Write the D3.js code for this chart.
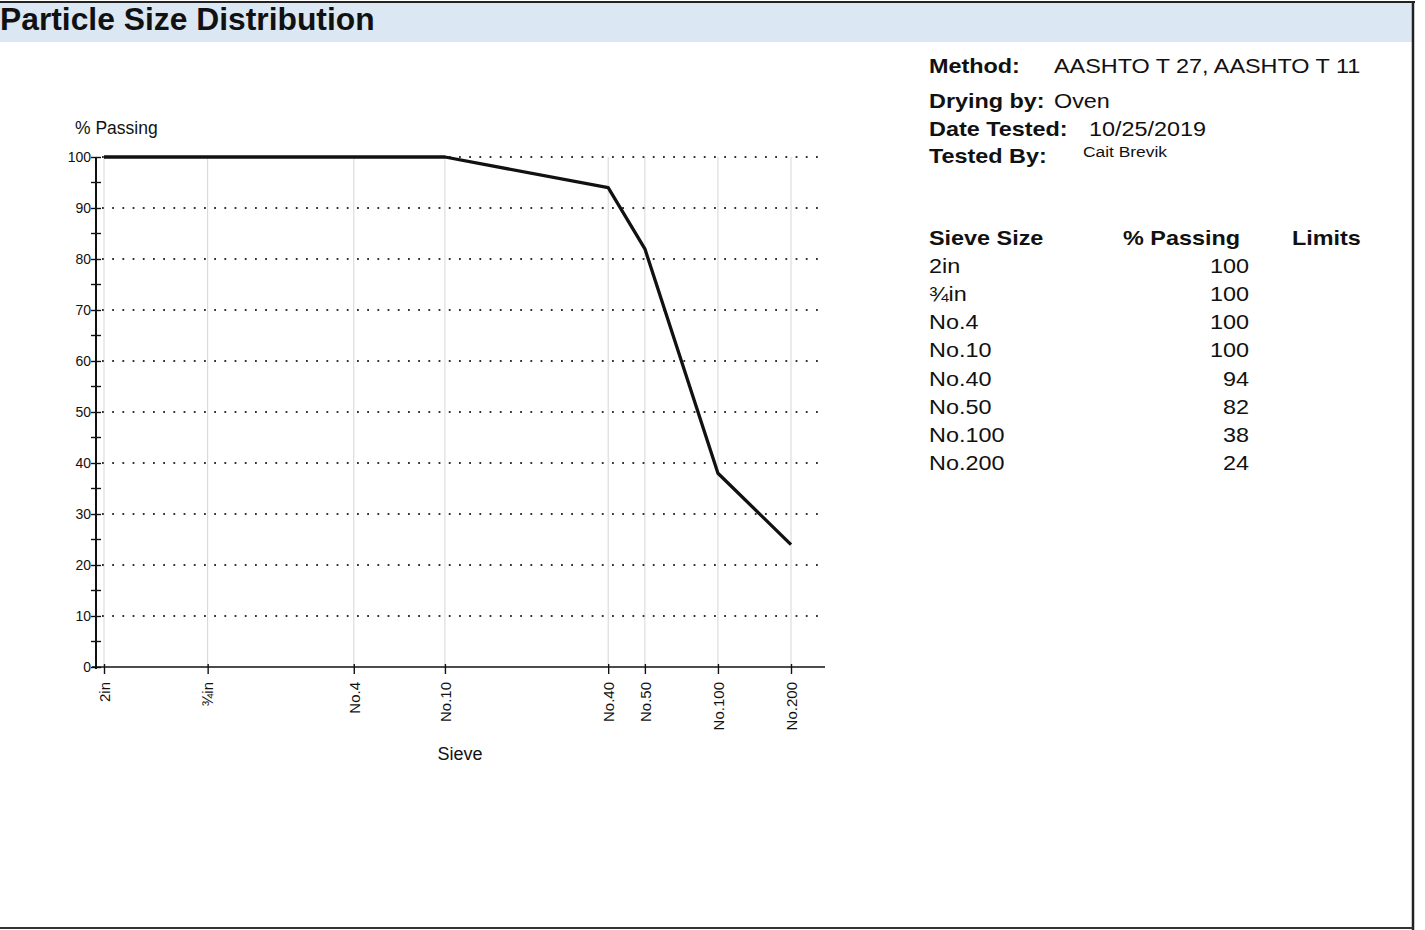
<!DOCTYPE html>
<html>
<head>
<meta charset="utf-8">
<script src="https://cdn.jsdelivr.net/npm/d3@7"></script>
<style>
  html, body { margin: 0; padding: 0; background: #fff; }
  svg { display: block; font-family: Arial, "Liberation Sans", sans-serif; }
</style>
</head>
<body>
<script>
"use strict";
// sieve data
const sieves = ["2in", "\u00BEin", "No.4", "No.10", "No.40", "No.50", "No.100", "No.200"];
const sizesMm = [50.8, 19.0, 4.75, 2.0, 0.425, 0.3, 0.15, 0.075];
const passing = [100, 100, 100, 100, 94, 82, 38, 24];
const yTicks = [0, 10, 20, 30, 40, 50, 60, 70, 80, 90, 100];
const yMinor = [5, 15, 25, 35, 45, 55, 65, 75, 85, 95];
const infoLabels = ["Method:", "Drying by:", "Date Tested:", "Tested By:"];
const infoValues = ["AASHTO T 27, AASHTO T 11", "Oven", "10/25/2019", "Cait Brevik"];
const tableHeads = ["Sieve Size", "% Passing", "Limits"];

const W = 1425, H = 930;
const svg = d3.select("body").append("svg").attr("width", W).attr("height", H);

// title bar + frame
svg.append("rect").attr("x", 0).attr("y", 3).attr("width", 1413).attr("height", 39).attr("fill", "#dbe7f3");
svg.append("text").attr("x", 0).attr("y", 30).attr("font-size", 31.8).attr("font-weight", "bold").attr("fill", "#111").text("Particle Size Distribution");
svg.append("line").attr("x1", 0).attr("x2", 1415).attr("y1", 2).attr("y2", 2).attr("stroke", "#222").attr("stroke-width", 2);
svg.append("line").attr("x1", 1413).attr("x2", 1413).attr("y1", 1).attr("y2", H).attr("stroke", "#222").attr("stroke-width", 2.5);
svg.append("line").attr("x1", 0).attr("x2", 1413).attr("y1", 928).attr("y2", 928).attr("stroke", "#333").attr("stroke-width", 2);

// chart
const axX = 96, left = 92, right = 825;
const x = d3.scaleLog().domain([50.8, 0.075]).range([104, 791]);
const y = d3.scaleLinear().domain([0, 100]).range([667, 157]);
const g = svg.append("g");

g.selectAll(".vgrid").data(sizesMm).enter().append("line")
  .attr("x1", d => x(d)).attr("x2", d => x(d))
  .attr("y1", y(100)).attr("y2", y(0))
  .attr("stroke", "#d6d6d6").attr("stroke-width", 1);

g.selectAll(".hgrid").data(yTicks.filter(d => d > 0)).enter().append("line")
  .attr("x1", axX + 6).attr("x2", right)
  .attr("y1", d => y(d)).attr("y2", d => y(d))
  .attr("stroke", "#333").attr("stroke-width", 2)
  .attr("stroke-dasharray", "1.8,8.4");

// y axis
const yAxis = d3.axisLeft(y).tickValues(yTicks).tickSize(5).tickPadding(0);
const ya = g.append("g").attr("transform", `translate(${axX},0)`).call(yAxis);
ya.select(".domain").remove();
ya.selectAll(".tick line").attr("x1", 5).attr("stroke", "#111").attr("stroke-width", 1.4);
ya.selectAll(".tick text").attr("font-size", 14).attr("fill", "#111").attr("font-family", null);
ya.selectAll(".minor").data(yMinor).enter().append("line").attr("class", "minor")
  .attr("x1", -5).attr("x2", 5).attr("y1", d => y(d)).attr("y2", d => y(d))
  .attr("stroke", "#111").attr("stroke-width", 1.4);
g.append("line").attr("x1", axX).attr("x2", axX).attr("y1", y(100)).attr("y2", y(0) + 2)
  .attr("stroke", "#111").attr("stroke-width", 2);

// x axis
const xAxis = d3.axisBottom(x).tickValues(sizesMm).tickFormat((d, i) => sieves[i]).tickSize(7).tickPadding(0);
const xa = g.append("g").attr("transform", `translate(0,${y(0)})`).call(xAxis);
xa.select(".domain").remove();
xa.selectAll(".tick line").attr("y1", -3).attr("stroke", "#111").attr("stroke-width", 1.4);
xa.selectAll(".tick text")
  .attr("font-size", 15).attr("fill", "#111").attr("font-family", null)
  .attr("transform", "rotate(-90)").attr("text-anchor", "end")
  .attr("x", -15).attr("y", 0).attr("dy", "0.35em");
g.append("line").attr("x1", left).attr("x2", right).attr("y1", y(0)).attr("y2", y(0))
  .attr("stroke", "#111").attr("stroke-width", 1.6);

// curve
const line = d3.line().x(d => x(d[0])).y(d => y(d[1]));
g.append("path").datum(sizesMm.map((s, i) => [s, passing[i]]))
  .attr("d", line).attr("fill", "none").attr("stroke", "#111").attr("stroke-width", 3.3)
  .attr("stroke-linejoin", "round");

g.append("text").attr("x", 75).attr("y", 134).attr("font-size", 17.5).attr("fill", "#111").text("% Passing");
g.append("text").attr("x", 460).attr("y", 760).attr("text-anchor", "middle").attr("font-size", 18).attr("fill", "#111").text("Sieve");

// right panel (text in the report is horizontally stretched)
const sx = 1.2;
const p = svg.append("g").attr("transform", `translate(929,0) scale(${sx},1)`).attr("fill", "#111");
const infoY = [73, 108, 136, 163];
const infoX = [1054, 1054, 1089, 1083];
p.selectAll(".il").data(infoLabels).enter().append("text")
  .attr("x", 0).attr("y", (d, i) => infoY[i]).attr("font-size", 19.5).attr("font-weight", "bold").text(d => d);
p.selectAll(".iv").data(infoValues).enter().append("text")
  .attr("x", (d, i) => (infoX[i] - 929) / sx).attr("y", (d, i) => i === 3 ? 157 : infoY[i])
  .attr("font-size", (d, i) => i === 3 ? 14.5 : 19.5).text(d => d);

const headX = [0, (1240 - 929) / sx, (1292 - 929) / sx];
const headAnchor = ["start", "end", "start"];
p.selectAll(".th").data(tableHeads).enter().append("text")
  .attr("x", (d, i) => headX[i]).attr("y", 245).attr("text-anchor", (d, i) => headAnchor[i])
  .attr("font-size", 19.5).attr("font-weight", "bold").text(d => d);
const rowY = d3.scalePoint().domain(sieves).range([273, 470]);
p.selectAll(".rs").data(sieves).enter().append("text")
  .attr("x", 0).attr("y", d => rowY(d)).attr("font-size", 19.5).text(d => d);
p.selectAll(".rv").data(passing).enter().append("text")
  .attr("x", (1249 - 929) / sx).attr("y", (d, i) => rowY(sieves[i])).attr("text-anchor", "end")
  .attr("font-size", 19.5).text(d => d);
</script>
</body>
</html>
